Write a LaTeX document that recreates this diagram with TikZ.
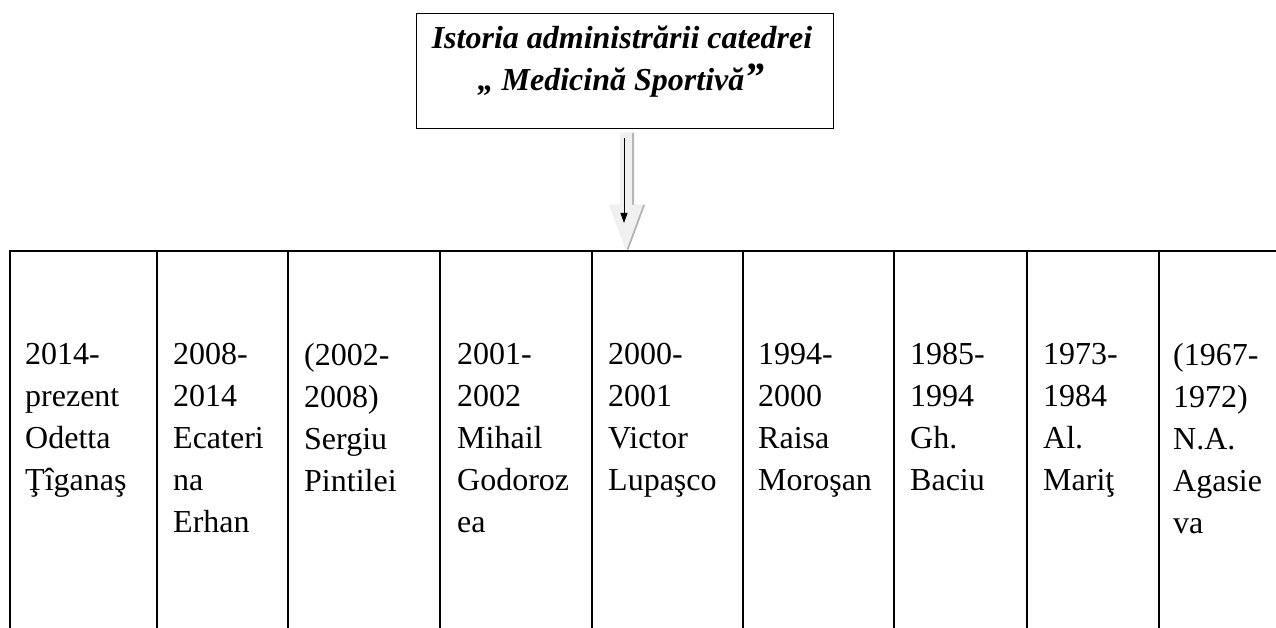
\documentclass[tikz,border=0pt]{standalone}
\usepackage{fontspec}
\setmainfont{Liberation Serif}
\usetikzlibrary{positioning, arrows.meta, calc}

\begin{document}
\begin{tikzpicture}[x=1pt, y=-1pt,
    cell/.style={anchor=north west, inner sep=0pt, align=left, font=\fontsize{32}{42}\selectfont},
    head/.style={anchor=base, inner sep=0pt, font=\fontsize{32}{42}\selectfont\bfseries\itshape},
    rule/.style={line width=1.8pt}]
    \useasboundingbox (0,0) rectangle (1276,628);

    \node[draw, rule, minimum width=417pt, minimum height=115pt] (title) at (625,71) {};
    \node[head] (t1) at (622,49) {Istoria administrării catedrei};
    \node[head] (t2) at (621,91) {„ Medicină Sportivă{\fontsize{40}{42}\selectfont”}};

    \coordinate (top) at (624,138);
    \coordinate (tip) at (624,223);
    \fill[black!30] (622,133) -- (634,133) -- (634,205) -- (645,205) -- (628,251) -- (611,205) -- (622,205) -- cycle;
    \fill[black!6] (620,133) -- (632,133) -- (632,205) -- (643,205) -- (626,251) -- (609,205) -- (620,205) -- cycle;
    \draw[-{Triangle[length=10pt, width=7pt]}, line width=0.9pt] (top) -- (tip);

    \draw[rule] (9,251) -- (1276,251)
        (10,251) -- (10,628)
        (157,251) -- (157,628)
        (288,251) -- (288,628)
        (440,251) -- (440,628)
        (592,251) -- (592,628)
        (743,251) -- (743,628)
        (894,251) -- (894,628)
        (1027,251) -- (1027,628)
        (1159,251) -- (1159,628);

    \node[cell] (ot) at (25,343) {2014-\\prezent\\Odetta\\Ţîganaş};
    \node[cell] (ee) at (173,343) {2008-\\2014\\Ecateri\\na\\Erhan};
    \node[cell] (sp) at (304,343) {(2002-\\2008)\\Sergiu\\Pintilei};
    \node[cell] (mg) at (457,343) {2001-\\2002\\Mihail\\Godoroz\\ea};
    \node[cell] (vl) at (608,343) {2000-\\2001\\Victor\\Lupaşco};
    \node[cell] (rm) at (758,343) {1994-\\2000\\Raisa\\Moroşan};
    \node[cell] (gb) at (910,343) {1985-\\1994\\Gh.\\Baciu};
    \node[cell] (am) at (1043,343) {1973-\\1984\\Al.\\Mariţ};
    \node[cell] (na) at (1173,343) {(1967-\\1972)\\N.A.\\Agasie\\va};
\end{tikzpicture}
\end{document}
